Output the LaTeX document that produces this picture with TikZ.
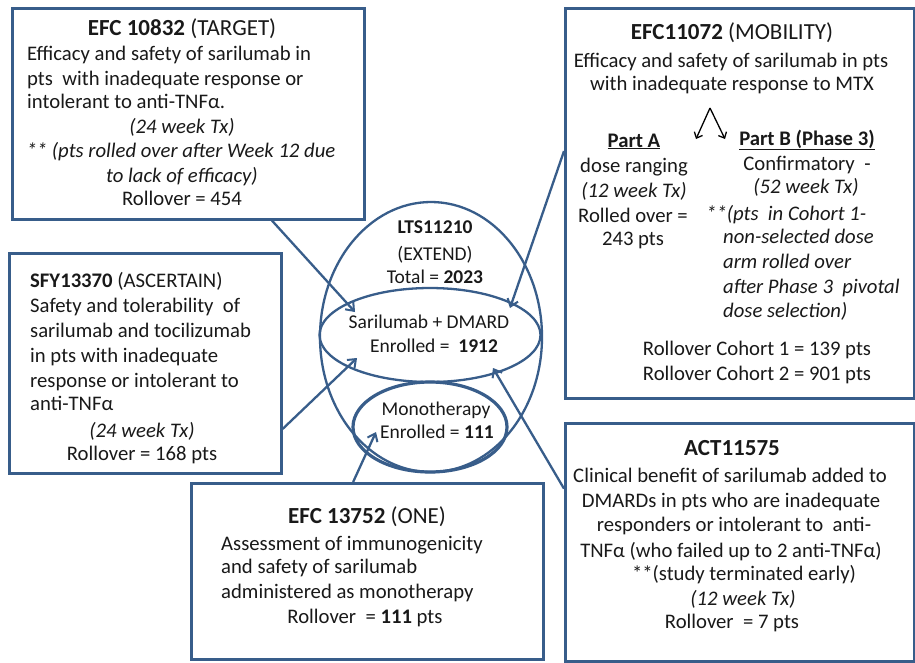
\documentclass[tikz,border=0pt]{standalone}
\usepackage{fontspec}
\setmainfont{Carlito}
\usetikzlibrary{shapes.geometric,arrows.meta,calc}
\definecolor{bord}{RGB}{56,93,138}
\definecolor{tc}{RGB}{25,25,25}
\begin{document}
\begin{tikzpicture}[x=1pt,y=-1pt,
  boxst/.style={draw=bord,line width=2.6pt,anchor=north west,inner sep=0pt},
  ell/.style={ellipse,draw=bord,line width=2.3pt,inner sep=0pt},
  tx/.style={anchor=base,inner sep=0pt,text=tc,font=\fontsize{20.7}{24}\selectfont},
  tl/.style={tx,anchor=base west},
  tt/.style={tx,font=\fontsize{23}{26}\selectfont},
  te/.style={tx,font=\fontsize{19.5}{23}\selectfont},
  arr/.style={draw=bord,line width=2.3pt,-{Straight Barb[length=7pt,width=11pt,line width=2pt]}},
  varr/.style={draw=black,line width=1.3pt,-{Straight Barb[length=5pt,width=9pt,line width=1.3pt]}}
]
\useasboundingbox (0,0) rectangle (915,662);
\fill[white] (0,0) rectangle (915,662);

% ellipses
\node[ell,minimum width=222pt,minimum height=270pt] (big) at (431,337) {};
\node[ell,minimum width=221pt,minimum height=94pt] (sar) at (430,335) {};
\node[ell,line width=3.2pt,minimum width=154pt,minimum height=90pt] (mono) at (430,427) {};

% boxes
\node[boxst,minimum width=352pt,minimum height=211pt] (b1) at (11,7) {};
\node[boxst,minimum width=349pt,minimum height=390pt] (b2) at (564,7) {};
\node[boxst,minimum width=272pt,minimum height=220pt] (b3) at (8,252) {};
\node[boxst,minimum width=352pt,minimum height=176pt] (b4) at (190,482) {};
\node[boxst,minimum width=349pt,minimum height=238pt] (b5) at (564,422) {};

% box 1
\node[tt] (t1a) at (182,35) {\textbf{EFC 10832} (TARGET)};
\node[tl] (t1b) at (27,60) {Efficacy and safety of sarilumab in};
\node[tl] (t1c) at (27,85) {pts\ \ with inadequate response or};
\node[tl] (t1d) at (27,108) {intolerant to anti-TNFα.};
\node[tx] (t1e) at (182,133) {\itshape (24 week Tx)};
\node[tx] (t1f) at (181,157) {\itshape ** (pts rolled over after Week 12 due};
\node[tx] (t1g) at (182,182) {\itshape to lack of efficacy)};
\node[tx] (t1h) at (182,205) {Rollover = 454};

% box 2
\node[tt] (t2a) at (732,39) {\textbf{EFC11072} (MOBILITY)};
\node[tx] (t2b) at (731,67) {Efficacy and safety of sarilumab in pts};
\node[tx] (t2c) at (732,90) {with inadequate response to MTX};
\node[tx] (t2d) at (634,147) {\textbf{\underline{Part A}}};
\node[tx] (t2e) at (634,172) {dose ranging};
\node[tx] (t2f) at (634,197) {\itshape (12 week Tx)};
\node[tx] (t2g) at (633,222) {Rolled over =};
\node[tx] (t2h) at (633,245) {243 pts};
\node[tx] (t2i) at (807,145) {\textbf{\underline{Part B (Phase 3)}}};
\node[tx] (t2j) at (807,170) {Confirmatory\ \ -};
\node[tx] (t2k) at (806,193) {\itshape (52 week Tx)};
\node[tl] (t2l) at (706,220) {\itshape **(pts\ \ in Cohort 1-};
\node[tl] (t2m) at (723,243) {\itshape non-selected dose};
\node[tl] (t2n) at (723,268) {\itshape arm rolled over};
\node[tl] (t2o) at (723,293) {\itshape after Phase 3\ \ pivotal};
\node[tl] (t2p) at (723,317) {\itshape dose selection)};
\node[tx] (t2q) at (757,355) {Rollover Cohort 1 = 139 pts};
\node[tx] (t2r) at (757,380) {Rollover Cohort 2 = 901 pts};
\coordinate (vtop) at (710,108);
\coordinate (vl) at (696,139);
\coordinate (vr) at (725,139);
\draw[varr] (vtop) -- (vl);
\draw[varr] (vtop) -- (vr);

% box 3
\node[tl] (t3a) at (30,287) {\textbf{SFY13370} (ASCERTAIN)};
\node[tl] (t3b) at (30,312) {Safety and tolerability\ \ of};
\node[tl] (t3c) at (30,337) {sarilumab and tocilizumab};
\node[tl] (t3d) at (30,362) {in pts with inadequate};
\node[tl] (t3e) at (30,387) {response or intolerant to};
\node[tl] (t3f) at (30,410) {anti-TNFα};
\node[tx] (t3g) at (142,437) {\itshape (24 week Tx)};
\node[tx] (t3h) at (142,460) {Rollover = 168 pts};

% box 4
\node[tt] (t4a) at (367,523) {\textbf{EFC 13752} (ONE)};
\node[tl] (t4b) at (221,550) {Assessment of immunogenicity};
\node[tl] (t4c) at (221,573) {and safety of sarilumab};
\node[tl] (t4d) at (221,598) {administered as monotherapy};
\node[tx] (t4e) at (365,623) {Rollover\ \ = \textbf{111} pts};

% box 5
\node[tt] (t5a) at (732,455) {\textbf{ACT11575}};
\node[tx] (t5b) at (730,482) {Clinical benefit of sarilumab added to};
\node[tx] (t5c) at (731,507) {DMARDs in pts who are inadequate};
\node[tx] (t5d) at (734,531) {responders or intolerant to\ \ anti-};
\node[tx] (t5e) at (731,557) {TNFα (who failed up to 2 anti-TNFα)};
\node[tx] (t5f) at (744,580) {**(study terminated early)};
\node[tx] (t5g) at (743,605) {\itshape (12 week Tx)};
\node[tx] (t5h) at (732,628) {Rollover\ \ = 7 pts};

% ellipse texts
\node[te] (e1) at (435,233) {\textbf{LTS11210}};
\node[te] (e2) at (435,260) {(EXTEND)};
\node[te] (e3) at (435,283) {Total = \textbf{2023}};
\node[te] (e4) at (429,328) {Sarilumab + DMARD};
\node[te] (e5) at (434,352) {Enrolled =\ \ \textbf{1912}};
\node[te] (e6) at (436,415) {Monotherapy};
\node[te] (e7) at (437,438) {Enrolled = \textbf{111}};

% arrows
\coordinate (h1) at (355,312);
\coordinate (h2) at (510,308);
\coordinate (h3) at (357,358);
\coordinate (h4) at (376,432);
\coordinate (h5) at (493,368);
\draw[arr] ($(b1.south west)!0.736!(b1.south east)$) -- (h1);
\draw[arr] ($(b2.north west)!0.367!(b2.south west)$) -- (h2);
\draw[arr] ($(b3.north east)!0.795!(b3.south east)$) -- (h3);
\draw[arr] ($(b4.north west)!0.46!(b4.north east)$) -- (h4);
\draw[arr] ($(b5.north west)!0.277!(b5.south west)$) -- (h5);
\end{tikzpicture}
\end{document}
